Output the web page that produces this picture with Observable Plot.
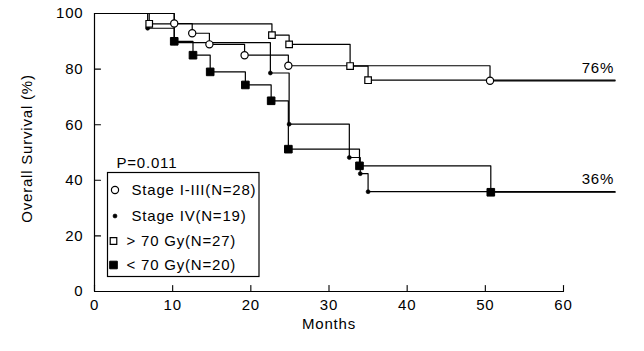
<!DOCTYPE html>
<html><head><meta charset="utf-8">
<script src="https://cdn.jsdelivr.net/npm/d3@7"></script>
<script src="https://cdn.jsdelivr.net/npm/@observablehq/plot@0.6"></script>
<style>
html,body{margin:0;padding:0;background:#fff;}
#wrap{position:relative;width:644px;height:351px;font-family:"Liberation Sans",Arial,sans-serif;color:#000;}
#wrap svg{display:block;}
#overlay{position:absolute;left:0;top:0;pointer-events:none;}
</style></head><body>
<div id="wrap"></div>
<script>
// ---- data (months, overall survival %) ----
const stage13Months = [0, 10.2, 12.5, 14.7, 19.2, 24.8, 50.6, 66.6];
const stage13Surv   = [100, 96.4, 92.9, 88.9, 85.0, 81.2, 75.8, 75.8];

const stage4Months = [0, 6.8, 10.2, 22.5, 24.9, 32.6, 34.0, 35.0, 66.6];
const stage4Surv   = [100, 94.7, 89.5, 78.6, 60.2, 48.2, 42.4, 35.9, 35.9];

const over70Months = [0, 7.0, 22.7, 24.9, 32.7, 35.0, 66.6];
const over70Surv   = [100, 96.3, 92.2, 88.9, 81.1, 76.0, 76.0];

const under70Months = [0, 10.2, 12.6, 14.8, 19.3, 22.6, 24.8, 33.9, 50.7, 66.6];
const under70Surv   = [100, 90.0, 85.0, 79.0, 74.3, 68.6, 51.2, 45.2, 35.7, 35.7];

const seriesNames = ["Stage I-III(N=28)", "Stage IV(N=19)", "> 70 Gy(N=27)", "< 70 Gy(N=20)"];
const endLabels = ["76%", "36%"];
const endLabelValues = [76, 36];
const endLabelMonth = 66.6;
const pValueText = "P=0.011";

const xTicks = [0, 10, 20, 30, 40, 50, 60];
const yTicks = [0, 20, 40, 60, 80, 100];
const xLabel = "Months";
const yLabel = "Overall Survival (%)";

// ---- build ----
const groups = [
  {name: seriesNames[0], months: stage13Months, surv: stage13Surv, symbol: "circle", fill: "white", r: 3.6, sw: 1.2},
  {name: seriesNames[1], months: stage4Months, surv: stage4Surv, symbol: "circle", fill: "black", r: 2.0, sw: 0.6},
  {name: seriesNames[2], months: over70Months, surv: over70Surv, symbol: "square", fill: "white", r: 3.7, sw: 1.2},
  {name: seriesNames[3], months: under70Months, surv: under70Surv, symbol: "square", fill: "black", r: 4.3, sw: 1}
];
const rows = groups.flatMap(g => g.months.map((m, i) => ({
  series: g.name, month: m, surv: g.surv[i], event: i > 0 && i < g.months.length - 1
})));
const ends = endLabels.map((t, i) => ({text: t, surv: endLabelValues[i], month: endLabelMonth}));

const tickShape = {draw(context, l) { context.moveTo(0, 0); context.lineTo(0, -l); }};

const FONT = '"Liberation Sans", Arial, sans-serif';
const W = 644, H = 351;

const plot = Plot.plot({
  width: W, height: H,
  marginLeft: 94, marginRight: 81, marginTop: 13, marginBottom: 60,
  style: {fontFamily: FONT, fontSize: "15px", letterSpacing: "0.8px", background: "white", color: "black"},
  x: {domain: [0, 60]},
  y: {domain: [0, 100]},
  marks: [
    Plot.ruleX([0], {stroke: "black", strokeWidth: 1.2}),
    Plot.ruleY([0], {stroke: "black", strokeWidth: 1.2}),
    Plot.vector(yTicks, {x: 0, y: d => d, length: 6, rotate: 90, anchor: "start", shape: tickShape, stroke: "black", strokeWidth: 1.1}),
    Plot.vector(xTicks, {x: d => d, y: 0, length: 6, rotate: 0, anchor: "start", shape: tickShape, stroke: "black", strokeWidth: 1.1}),
    Plot.axisY({ticks: yTicks, tickSize: 0, tickPadding: 11, tickFormat: d => d, label: null}),
    Plot.axisX({ticks: xTicks, tickSize: 0, tickPadding: 8, tickFormat: d => d, label: null}),
    Plot.text([yLabel], {frameAnchor: "left", text: d => d, rotate: -90, textAnchor: "middle", lineAnchor: "middle", dx: -67, dy: -4}),
    Plot.text([xLabel], {frameAnchor: "bottom", text: d => d, textAnchor: "middle", lineAnchor: "middle", dy: 33}),
    Plot.line(rows, {x: "month", y: "surv", z: "series", curve: "step-after", stroke: "black", strokeWidth: 1.2}),
    ...groups.map(g => Plot.dot(rows.filter(d => d.series === g.name && d.event), {
      x: "month", y: "surv", symbol: g.symbol, r: g.r, fill: g.fill, stroke: "black", strokeWidth: g.sw
    })),
    Plot.text(ends, {x: "month", y: "surv", text: "text", textAnchor: "end", lineAnchor: "middle", dy: -12.5, dx: -1})
  ]
});

const wrap = document.getElementById("wrap");
wrap.appendChild(plot);

// ---- legend overlay ----
const ov = d3.select(wrap).append("svg").attr("id", "overlay")
  .attr("width", W).attr("height", H)
  .style("font-family", FONT).style("font-size", "15px").style("letter-spacing", "0.8px");
ov.append("text").attr("x", 116.5).attr("y", 168).text(pValueText);
ov.append("rect").attr("x", 107.5).attr("y", 172.5).attr("width", 151.5).attr("height", 104)
  .attr("fill", "white").attr("stroke", "black").attr("stroke-width", 1.2);
const legY = [190, 216, 241, 265];
const legTextX = [131.5, 131.5, 126.5, 126.5];
const legSymX = [115, 115, 113.5, 113.5];
groups.forEach((g, i) => {
  const sym = g.symbol === "square" ? d3.symbolSquare : d3.symbolCircle;
  ov.append("path")
    .attr("d", d3.symbol(sym, Math.PI * g.r * g.r)())
    .attr("transform", `translate(${legSymX[i]},${legY[i]})`)
    .attr("fill", g.fill).attr("stroke", "black").attr("stroke-width", g.sw);
  ov.append("text").attr("x", legTextX[i]).attr("y", legY[i]).attr("dy", "0.35em").text(g.name);
});
</script>
</body></html>
